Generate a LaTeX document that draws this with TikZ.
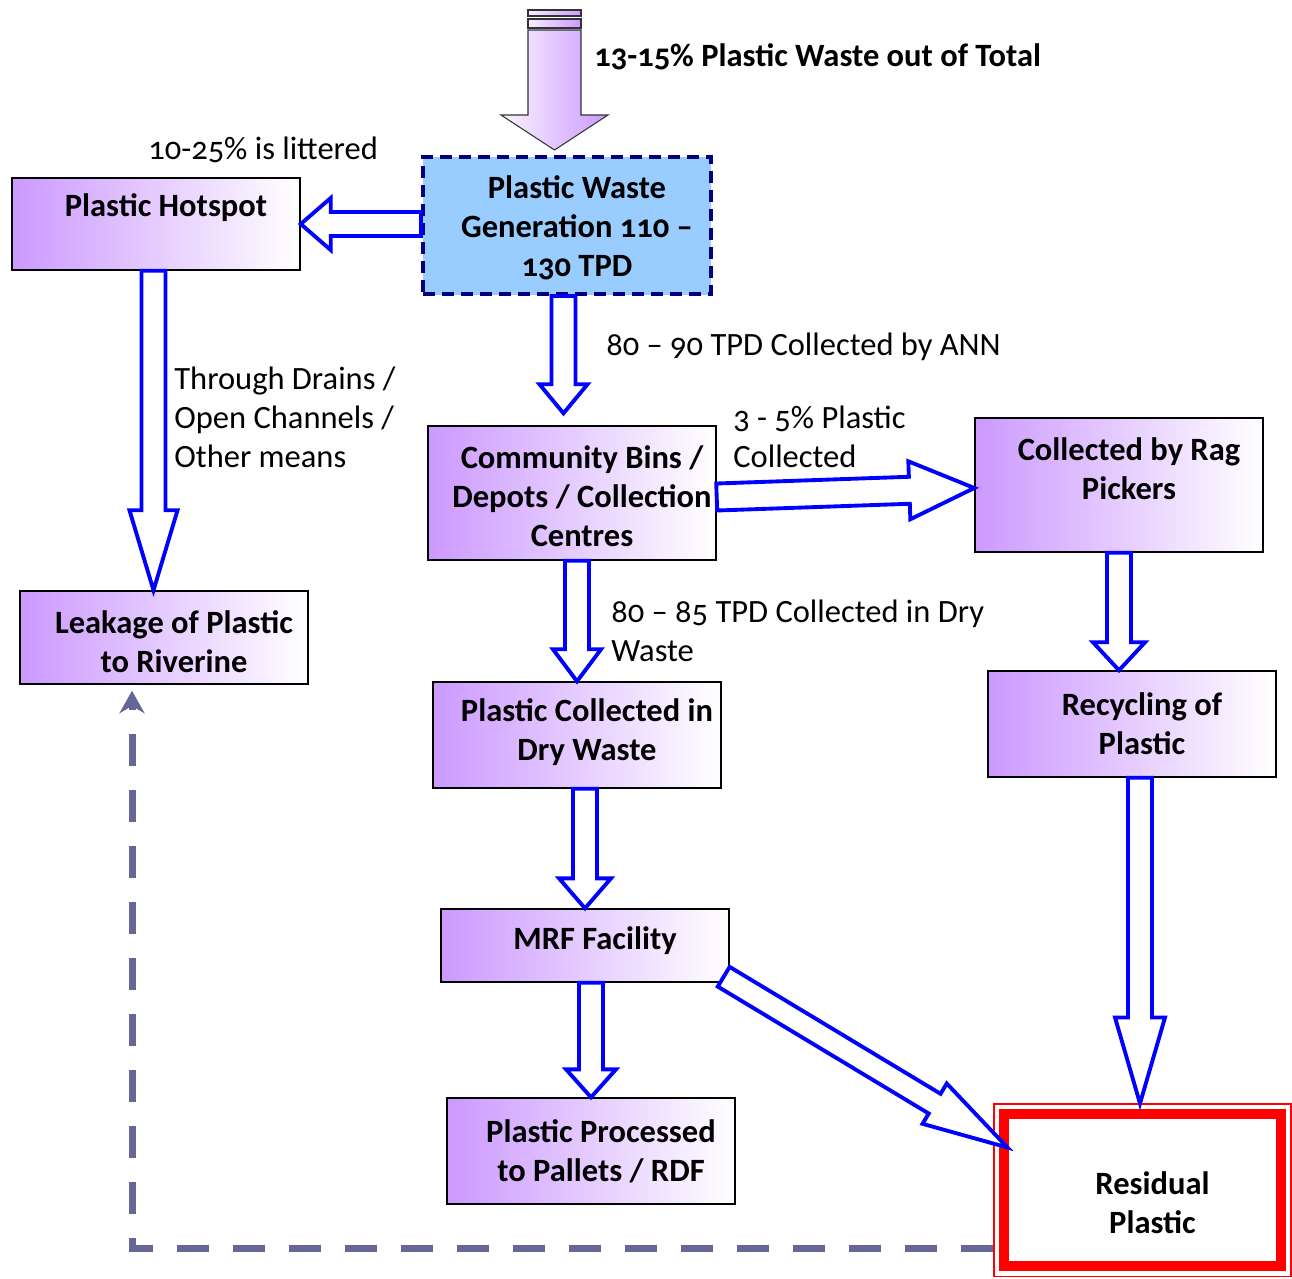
\documentclass[tikz,border=0pt]{standalone}
\usepackage{fontspec}
\setmainfont{Carlito}[Numbers=OldStyle]
\usepackage{tikz}
\usepackage{xcolor}
\usetikzlibrary{arrows.meta, positioning, calc}
\definecolor{BoxPurple}{HTML}{CC99FF}
\definecolor{GenBlue}{HTML}{99CCFF}
\definecolor{GenNavy}{HTML}{000080}
\definecolor{LeakGray}{HTML}{666699}
\newcommand{\flowsize}{\fontsize{18.5}{22.2}\selectfont}

\tikzset{
    shaft half/.store in=\shafthalf,
    head half/.store in=\headhalf,
    head len/.store in=\headlen,
    shaft half=0.24cm, head half=0.5cm, head len=0.6cm
}

\begin{document}
\begin{tikzpicture}[
    flow_box/.style={
        rectangle,
        draw=black,
        line width=0.8pt,
        minimum width=5.76cm,
        inner sep=0pt,
        left color=BoxPurple,
        right color=white
    },
    box_text/.style={
        font=\flowsize\bfseries,
        align=center,
        xshift=0.2cm
    },
    note_label/.style={
        font=\flowsize,
        align=left,
        inner sep=0pt,
        anchor=west
    },
    block_arrow/.style={
        draw=blue,
        line width=2.2pt,
        fill=white,
        line join=miter,
        to path={
            ($(\tikztotarget)!\headlen!(\tikztostart)$) coordinate (hb)
            ($(\tikztostart)!\shafthalf!90:(\tikztotarget)$)
            -- ($(hb)!\shafthalf!-90:(\tikztostart)$)
            -- ($(hb)!\headhalf!-90:(\tikztostart)$)
            -- (\tikztotarget)
            -- ($(hb)!\headhalf!90:(\tikztostart)$)
            -- ($(hb)!\shafthalf!90:(\tikztostart)$)
            -- ($(\tikztostart)!\shafthalf!-90:(\tikztotarget)$)
            -- cycle
        }
    },
    leak_line/.style={
        draw=LeakGray,
        line width=0.14cm,
        dash pattern=on 0.64cm off 0.48cm,
        -{Stealth[length=0.45cm, width=0.5cm]}
    }
]
\useasboundingbox (0,0) rectangle (25.84,-25.56);

% =========================
% BOXES
% =========================
\node[flow_box, draw=GenNavy, line width=0.08cm, dash pattern=on 0.24cm off 0.14cm,
    fill=GenBlue, left color=GenBlue, right color=GenBlue, minimum height=2.74cm,
    label={[box_text, yshift=-0.05cm]center:Plastic Waste\\Generation 110 –\\130 TPD}]
    (gen) at (11.34,-4.51) {};

\node[flow_box, minimum height=1.84cm,
    label={[box_text, yshift=0.32cm]center:Plastic Hotspot}]
    (hotspot) at (3.12,-4.48) {};

\node[flow_box, minimum height=1.86cm,
    label={[box_text, yshift=-0.08cm]center:Leakage of Plastic\\to Riverine}]
    (leak) at (3.28,-12.75) {};

\node[flow_box, minimum height=2.68cm,
    label={[box_text, yshift=-0.06cm]center:Community Bins /\\Depots / Collection\\Centres}]
    (bins) at (11.44,-9.86) {};

\node[flow_box, minimum height=2.68cm,
    label={[box_text, yshift=0.32cm]center:Collected by Rag\\Pickers}]
    (rag) at (22.38,-9.70) {};

\node[flow_box, minimum height=2.12cm,
    label={[box_text]center:Recycling of\\Plastic}]
    (recyc) at (22.64,-14.48) {};

\node[flow_box, minimum height=2.12cm,
    label={[box_text, yshift=0.06cm]center:Plastic Collected in\\Dry Waste}]
    (dry) at (11.54,-14.70) {};

\node[flow_box, minimum height=1.46cm,
    label={[box_text, yshift=0.09cm]center:MRF Facility}]
    (mrf) at (11.70,-18.91) {};

\node[flow_box, minimum height=2.12cm,
    label={[box_text]center:Plastic Processed\\to Pallets / RDF}]
    (proc) at (11.82,-23.02) {};

% Residual box with double red frame
\node[draw=red, line width=0.6pt, fill=white, minimum width=5.94cm, minimum height=3.44cm,
    label={[box_text, yshift=-0.26cm]center:Residual\\Plastic}]
    (resid) at (22.85,-23.80) {};
\draw[red, line width=0.2cm]
    ([shift={(0.22,-0.22)}]resid.north west) rectangle ([shift={(-0.22,0.22)}]resid.south east);

% =========================
% INPUT ARROW
% =========================
\coordinate (topsrc) at (11.09,-0.60);
\coordinate (toptip) at (11.09,-3.00);
\draw[black!80, line width=0.6pt, left color=BoxPurple!15, right color=BoxPurple]
    (10.56,-0.38) rectangle (11.62,-0.56);
\draw[black!80, line width=0.6pt, left color=BoxPurple!15, right color=BoxPurple]
    (10.56,-0.20) rectangle (11.62,-0.32);
\path[block_arrow, draw=black!80, line width=0.6pt, left color=BoxPurple!10, right color=BoxPurple,
    shaft half=0.53cm, head half=1.07cm, head len=0.70cm]
    (topsrc) to (toptip);

% =========================
% BLOCK ARROWS
% =========================
\draw[block_arrow, head half=0.52cm] (gen.west |- hotspot.east) to (hotspot.east);
\draw[block_arrow, head half=0.48cm, head len=0.58cm]
    ([xshift=-0.07cm]gen.south) to ([xshift=-0.17cm, yshift=0.24cm]bins.north);
\draw[block_arrow, head half=0.48cm, head len=1.6cm]
    ([xshift=-0.05cm]hotspot.south) to ([xshift=-0.21cm]leak.north);
\draw[block_arrow, shaft half=0.27cm, head half=0.58cm, head len=1.3cm]
    ([yshift=-0.08cm]bins.east) to ([yshift=-0.06cm]rag.west);
\draw[block_arrow, head half=0.48cm, head len=0.64cm] (bins.south -| dry.north) to (dry.north);
\draw[block_arrow, head half=0.52cm, head len=0.56cm] (rag.south) to (rag.south |- recyc.north);
\draw[block_arrow, head half=0.52cm] (dry.south -| mrf.north) to (mrf.north);
\draw[block_arrow, head half=0.5cm, head len=0.56cm] (mrf.south -| proc.north) to (proc.north);
\draw[block_arrow, head half=0.5cm, head len=1.72cm]
    ([xshift=-0.05cm]recyc.south -| resid.north) to ([xshift=-0.05cm]resid.north);
\draw[block_arrow, shaft half=0.23cm, head half=0.47cm, head len=1.7cm]
    ([shift={(-0.12,0.12)}]mrf.south east) to ([shift={(0.28,-0.88)}]resid.north west);

% Dashed return to leakage
\draw[leak_line] ([yshift=0.56cm]resid.south west) -| ([xshift=-0.64cm, yshift=-0.12cm]leak.south);

% =========================
% LABELS
% =========================
\node[note_label, font=\flowsize\bfseries] (totallabel) at (11.88,-1.14)
    {13-15\% Plastic Waste out of Total};
\node[note_label] (litterlabel) at (2.96,-3.00) {10-25\% is littered};
\node[note_label] (drainlabel) at (3.48,-8.34)
    {Through Drains /\\Open Channels /\\Other means};
\node[note_label] (annlabel) at (12.12,-6.94) {80 – 90 TPD Collected by ANN};
\node[note_label] (raglabel) at (14.66,-8.74) {3 - 5\% Plastic\\Collected};
\node[note_label] (drylabel) at (12.22,-12.61)
    {80 – 85 TPD Collected in Dry\\Waste};

\end{tikzpicture}
\end{document}
